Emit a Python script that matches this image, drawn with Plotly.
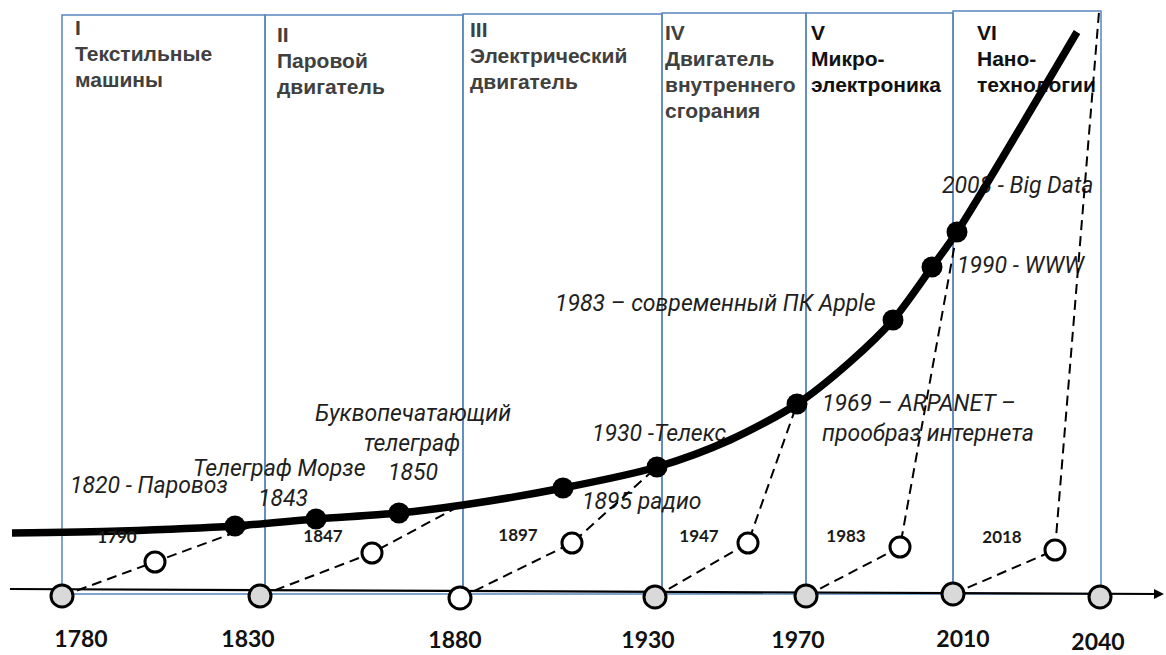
import plotly.graph_objects as go

# ---------------- data ----------------
# time axis
tick_years = ["1780", "1830", "1880", "1930", "1970", "2010", "2040"]
tick_pos = [62, 260, 460, 655, 806, 953, 1100]
tick_level = [596, 596, 598, 597, 596, 594, 597]
tick_fill = ["#d9d9d9", "#d9d9d9", "#ffffff", "#d9d9d9", "#d9d9d9", "#d9d9d9", "#d9d9d9"]
tick_label_x = [81, 248, 455, 648, 798, 963, 1098]
tick_label_y = [641, 641, 642, 642, 642, 641, 644]

# technological waves (boxes)
wave_edges = [62, 265, 463, 662, 806, 953, 1101]
wave_tops = [15, 15, 14, 13, 13, 11]
wave_bottom = 594
wave_titles = [
    ["I", "Текстильные", "машины"],
    ["II", "Паровой", "двигатель"],
    ["III", "Электрический", "двигатель"],
    ["IV", "Двигатель", "внутреннего", "сгорания"],
    ["V", "Микро-", "электроника"],
    ["VI", "Нано-", "технологии"],
]
wave_title_x = [75, 277, 470, 665, 811, 977]
wave_title_y = [30, 37, 32, 35, 35, 35]
wave_title_color = ["#404040", "#404040", "#404040", "#404040", "#111111", "#111111"]

# growth curve
curve_x = [12, 120, 235, 316, 399, 463, 563, 657, 730, 797, 850, 893, 932, 957, 1077]
curve_y = [533, 531, 526, 519, 513, 505, 488, 467, 440, 404, 362, 320, 267, 232, 32]

# events on the curve
event_x = [235, 316, 399, 563, 657, 797, 893, 932, 957]
event_y = [526, 519, 513, 488, 467, 404, 320, 267, 232]

# innovation onsets (open circles)
onset_years = ["1790", "1847", "1897", "1947", "1983", "2018"]
onset_x = [155, 372, 572, 748, 900, 1055]
onset_y = [562, 553, 543, 543, 547, 550]
onset_label_x = [117, 323, 518, 699, 846, 1002]
onset_label_y = [539, 538, 537, 538, 538, 539]
target_x = [258, 463, 657, 797, 957, 1099]
target_y = [524, 504, 467, 404, 232, 12]

# event labels
event_labels = ["1820 - Паровоз", "Телеграф Морзе", "1843", "Буквопечатающий", "телеграф",
                "1850", "1895 радио", "1930 -Телекс", "1969 – ARPANET –",
                "прообраз интернета", "1983 – современный ПК Apple", "1990 - WWW",
                "2008 - Big Data"]
event_label_x = [70, 193, 283, 413, 412, 413, 582, 592, 822, 822, 555, 957, 942]
event_label_y = [487, 470, 500, 415, 445, 474, 503, 435, 405, 435, 305, 267, 187]
event_label_pos = ["middle right", "middle right", "middle center", "middle center",
                   "middle center", "middle center", "middle right", "middle right",
                   "middle right", "middle right", "middle right", "middle right",
                   "middle right"]

# baseline
base_x = [10, 1160]
base_y = [589, 594]

# ---------------- figure ----------------
fig = go.Figure()

BOX_COLOR = "#5886c0"
shapes = []
for i in range(len(wave_tops)):
    shapes.append(dict(type="rect", xref="x", yref="y",
                       x0=wave_edges[i], x1=wave_edges[i + 1],
                       y0=wave_tops[i], y1=wave_bottom,
                       line=dict(color=BOX_COLOR, width=1.5),
                       fillcolor="rgba(0,0,0,0)", layer="below"))

# wave titles
tx, ty, tt, tc = [], [], [], []
for i, lines in enumerate(wave_titles):
    for j, s in enumerate(lines):
        tx.append(wave_title_x[i])
        ty.append(wave_title_y[i] + 26 * j)
        tt.append(s)
        tc.append(wave_title_color[i])
fig.add_trace(go.Scatter(x=tx, y=ty, text=tt, mode="text", textposition="middle right",
                         textfont=dict(family="Liberation Sans", size=21, weight="bold", color=tc),
                         hoverinfo="skip", cliponaxis=False))

# event labels
fig.add_trace(go.Scatter(x=event_label_x, y=event_label_y, text=event_labels, mode="text",
                         textposition=event_label_pos,
                         textfont=dict(family="Roboto", size=23, style="italic", color="#1f1f1f"),
                         hoverinfo="skip", cliponaxis=False))

# baseline with arrow
fig.add_trace(go.Scatter(x=base_x, y=base_y, mode="lines",
                         line=dict(color="black", width=2.2), hoverinfo="skip"))
fig.add_annotation(x=base_x[1] + 4, y=base_y[1], ax=base_x[1] - 6, ay=base_y[1] - 0.05,
                   xref="x", yref="y", axref="x", ayref="y", text="",
                   showarrow=True, arrowhead=2, arrowsize=1, arrowwidth=2, arrowcolor="black")

# dashed links
dx, dy = [], []
for i in range(len(onset_x)):
    dx += [tick_pos[i], onset_x[i], target_x[i], None]
    dy += [tick_level[i], onset_y[i], target_y[i], None]
fig.add_trace(go.Scatter(x=dx, y=dy, mode="lines",
                         line=dict(color="black", width=2, dash="10px,6px"),
                         hoverinfo="skip"))

# growth curve
fig.add_trace(go.Scatter(x=curve_x, y=curve_y, mode="lines",
                         line=dict(color="black", width=7.5, shape="spline", smoothing=0.8),
                         hoverinfo="skip"))

# events
fig.add_trace(go.Scatter(x=event_x, y=event_y, mode="markers",
                         marker=dict(size=21, color="black"), hoverinfo="skip"))

# onset circles
fig.add_trace(go.Scatter(x=onset_x, y=onset_y, mode="markers",
                         marker=dict(size=20, color="white", line=dict(color="black", width=3)),
                         hoverinfo="skip"))
fig.add_trace(go.Scatter(x=onset_label_x, y=onset_label_y, text=onset_years, mode="text",
                         textposition="middle center",
                         textfont=dict(family="Lato", size=17, weight="bold", color="#1a1a1a"),
                         hoverinfo="skip", cliponaxis=False))

# axis circles
fig.add_trace(go.Scatter(x=tick_pos, y=tick_level, mode="markers",
                         marker=dict(size=22, color=tick_fill, line=dict(color="black", width=3)),
                         hoverinfo="skip", cliponaxis=False))
fig.add_trace(go.Scatter(x=tick_label_x, y=tick_label_y, text=tick_years, mode="text",
                         textposition="middle center",
                         textfont=dict(family="Lato", size=23, weight="bold", color="#111111"),
                         hoverinfo="skip", cliponaxis=False))

fig.update_layout(
    width=1166, height=655, autosize=False,
    margin=dict(l=0, r=0, t=0, b=0),
    paper_bgcolor="white", plot_bgcolor="white",
    showlegend=False, shapes=shapes,
    xaxis=dict(range=[0, 1166], visible=False, fixedrange=True),
    yaxis=dict(range=[655, 0], visible=False, fixedrange=True),
)

fig.write_html("out.html", config={"displayModeBar": False},
               post_script="document.body.style.margin='0';document.body.style.overflow='hidden';")
